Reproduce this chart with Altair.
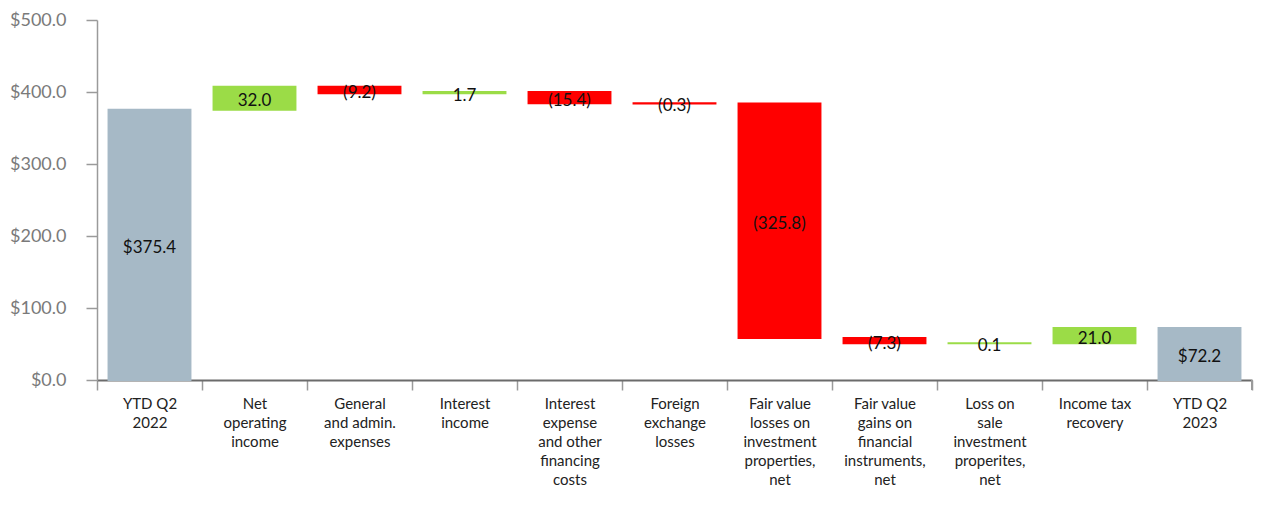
import altair as alt
import pandas as pd

categories = [
    "YTD Q2\n2022",
    "Net\noperating\nincome",
    "General\nand admin.\nexpenses",
    "Interest\nincome",
    "Interest\nexpense\nand other\nfinancing\ncosts",
    "Foreign\nexchange\nlosses",
    "Fair value\nlosses on\ninvestment\nproperties,\nnet",
    "Fair value\ngains on\nfinancial\ninstruments,\nnet",
    "Loss on\nsale\ninvestment\nproperites,\nnet",
    "Income tax\nrecovery",
    "YTD Q2\n2023",
]
values = [375.4, 32.0, -9.2, 1.7, -15.4, -0.3, -325.8, -7.3, 0.1, 21.0, 72.2]
is_total = [True, False, False, False, False, False, False, False, False, False, True]
y_ticks = [0, 100, 200, 300, 400, 500]

rows = []
running = 0.0
for cat, v, tot in zip(categories, values, is_total):
    if tot:
        start, end = 0.0, v
        kind = "total"
        label = f"${v:.1f}"
    else:
        start, end = running, running + v
        kind = "up" if v >= 0 else "down"
        label = f"{v:.1f}" if v >= 0 else f"({-v:.1f})"
    running = end
    rows.append({"cat": cat, "start": start, "end": end, "mid": (start + end) / 2,
                 "kind": kind, "label": label})
df = pd.DataFrame(rows)

PLOT_W, PLOT_H = 1155, 360

color_scale = alt.Scale(domain=["total", "up", "down"],
                        range=["#A6B9C6", "#9BDC47", "#FF0000"])

x_enc = alt.X("cat:N", sort=categories,
              scale=alt.Scale(paddingInner=0, paddingOuter=0),
              axis=alt.Axis(title=None, labelAngle=0,
                            labelExpr="isValid(datum.value) ? split(datum.value, '\\n') : ''",
                            tickBand="extent", domainColor="#6b6b6b", domainWidth=2,
                            tickColor="#9a9a9a", tickWidth=1.5, tickSize=10,
                            labelFontSize=15, labelColor="#222222", labelFont="Lato",
                            labelLineHeight=19, labelPadding=6))

base = alt.Chart(df)

bars = base.mark_bar(width=alt.RelativeBandSize(0.78), strokeWidth=2).encode(
    x=x_enc,
    y=alt.Y("start:Q", scale=alt.Scale(domain=[0, 500], nice=False),
            axis=alt.Axis(values=y_ticks, format="$.1f", grid=False, title=None,
                          domainColor="#9a9a9a", domainWidth=1.5,
                          tickColor="#9a9a9a", tickWidth=1.5, tickSize=11,
                          labelColor="#7a7a7a", labelFontSize=18, labelFont="Lato",
                          labelPadding=20)),
    y2="end:Q",
    color=alt.Color("kind:N", scale=color_scale, legend=None),
    stroke=alt.Stroke("kind:N", scale=color_scale, legend=None),
)

texts = base.mark_text(fontSize=17, font="Lato", color="#111111",
                       baseline="middle", dy=3).encode(
    x=alt.X("cat:N", sort=categories),
    y=alt.Y("mid:Q"),
    text="label:N",
)

end_tick = alt.Chart(df).mark_rule(color="#9a9a9a", strokeWidth=1.5).encode(
    x=alt.value(PLOT_W), y=alt.value(PLOT_H), y2=alt.value(PLOT_H + 10)
)

chart = (bars + texts + end_tick).properties(
    width=PLOT_W, height=PLOT_H,
    autosize=alt.AutoSizeParams(type="none"),
    padding={"left": 97, "top": 20, "right": 18, "bottom": 130},
).configure_view(stroke=None)

chart.save("out.html", embed_options={"renderer": "svg", "actions": False})
